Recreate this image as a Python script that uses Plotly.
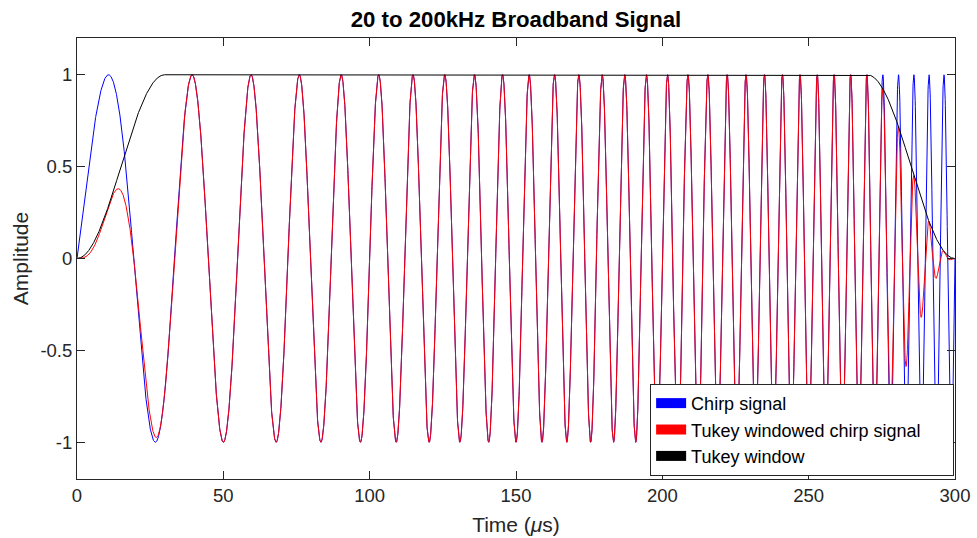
import numpy as np
import plotly.graph_objects as go

# Signal parameters (title: 20 to 200 kHz, 0..300 us, taper ~30 us each side)
f_start_khz = 20.0
f_end_khz = 200.0
duration_us = 300.0
tukey_alpha = 0.2
n_samples = 6001

x_tick_vals = [0, 50, 100, 150, 200, 250, 300]
x_tick_text = ["0", "50", "100", "150", "200", "250", "300"]
y_tick_vals = [-1, -0.5, 0, 0.5, 1]
y_tick_text = ["-1", "-0.5", "0", "0.5", "1"]
series_names = ["Chirp signal", "Tukey windowed chirp signal", "Tukey window"]
series_colors = ["#0000ff", "#ff0000", "#000000"]

t = np.linspace(0.0, duration_us, n_samples)
f0 = f_start_khz / 1000.0  # cycles per us
k = (f_end_khz - f_start_khz) / 1000.0 / duration_us
chirp = np.sin(2 * np.pi * (f0 * t + 0.5 * k * t ** 2))

taper = tukey_alpha * duration_us / 2
window = np.ones_like(t)
m1 = t < taper
window[m1] = 0.5 * (1 - np.cos(np.pi * t[m1] / taper))
m2 = t > duration_us - taper
window[m2] = 0.5 * (1 - np.cos(np.pi * (duration_us - t[m2]) / taper))
windowed = chirp * window

FONT = "Liberation Sans, Arial"

fig = go.Figure()
for y, name, col in zip([chirp, windowed, window], series_names, series_colors):
    fig.add_trace(go.Scatter(x=t, y=y, mode="lines", name=name,
                             line=dict(color=col, width=1), showlegend=False))
for name, col in zip(series_names, series_colors):
    fig.add_trace(go.Scatter(x=[None], y=[None], mode="lines", name=name + "\u2003\u2002",
                             line=dict(color=col, width=10), showlegend=True))

axis_common = dict(showline=True, linecolor="#262626", linewidth=1, mirror="ticks",
                   ticks="inside", ticklen=8, tickcolor="#262626", tickwidth=1,
                   showgrid=False, zeroline=False, automargin=False,
                   tickfont=dict(family=FONT, size=18.5, color="#262626"))

fig.update_layout(
    width=977, height=538,
    margin=dict(l=77, r=22, t=38, b=59),
    paper_bgcolor="white", plot_bgcolor="white",
    title=dict(text="<b>20 to 200kHz Broadband Signal</b>", x=0.5, xanchor="center",
               xref="paper", y=1 - 19 / 538, yanchor="middle",
               font=dict(family=FONT, size=22.2, color="#000000")),
    xaxis=dict(range=[0, duration_us], tickvals=x_tick_vals, ticktext=x_tick_text,
               title=dict(text="Time (<i>μ</i>s)", standoff=12,
                          font=dict(family=FONT, size=21, color="#262626")),
               **axis_common),
    yaxis=dict(range=[-1.2, 1.2], tickvals=y_tick_vals, ticktext=y_tick_text,
               title=dict(text="Amplitude", standoff=6,
                          font=dict(family=FONT, size=21, color="#262626")),
               **axis_common),
    legend=dict(x=0.999, xanchor="right", y=0.007, yanchor="bottom",
                bgcolor="white", bordercolor="#262626", borderwidth=1,
                font=dict(family=FONT, size=18, color="#000000"),
                itemwidth=30, tracegroupgap=0),
    showlegend=True,
)

fig.write_html("out.html")
